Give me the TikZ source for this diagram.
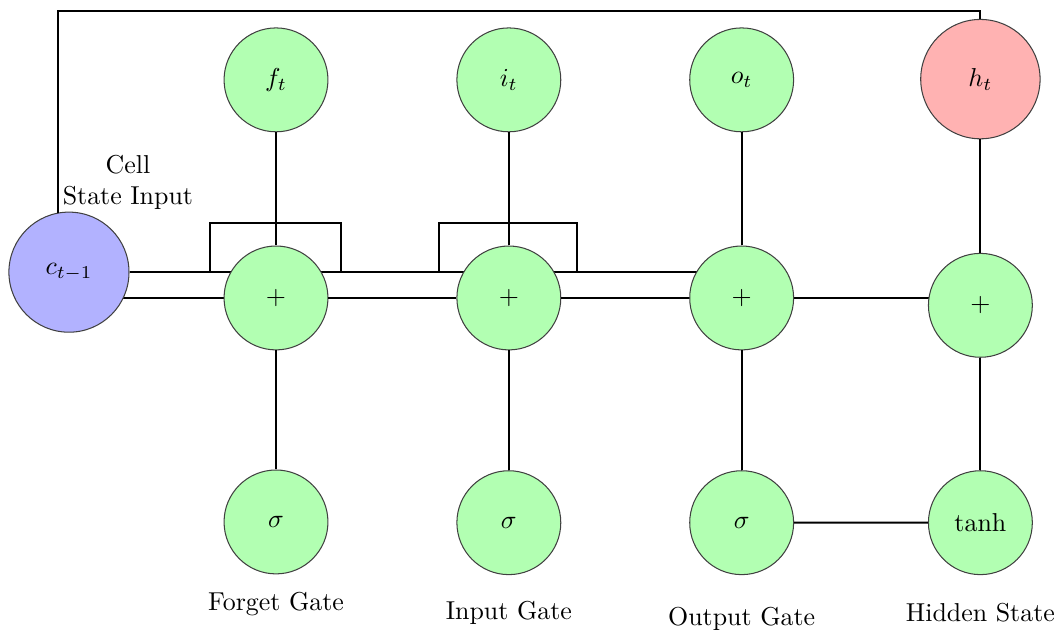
\documentclass[tikz,border=0pt]{standalone}
\usetikzlibrary{positioning, backgrounds}

\begin{document}
\begin{tikzpicture}
    [
        on grid,
        node distance=3cm and 3.16cm,
        gate/.style={draw=black!75, circle, fill=green!30, minimum size=1.41cm, inner sep=0pt},
        cellin/.style={gate, fill=blue!30, minimum size=1.63cm},
        hidden/.style={gate, fill=red!30, minimum size=1.62cm},
        wire/.style={draw, thick}
    ]
        \useasboundingbox (-3.746,-4.506) rectangle (10.654,4.044);
        % =========================================================================
        % NODES
        % =========================================================================
        % --- Middle row (sums) ---
        \node [gate] (fplus) {$+$};
        \node [gate, right=of fplus] (iplus) {$+$};
        \node [gate, right=of iplus] (oplus) {$+$};
        \node [gate, below right=0.1cm and 3.24cm of oplus] (hplus) {$+$};

        % --- Top row ---
        \node [gate, above=2.96cm of fplus] (ft) {$f_t$};
        \node [gate, above=2.96cm of iplus] (it) {$i_t$};
        \node [gate, above=2.96cm of oplus] (ot) {$o_t$};
        \node [hidden, above=3.07cm of hplus] (ht) {$h_t$};

        % --- Bottom row ---
        \node [gate, below=3.04cm of fplus] (fsig) {$\sigma$};
        \node [gate, below=3.05cm of iplus] (isig) {$\sigma$};
        \node [gate, below=3.05cm of oplus] (osig) {$\sigma$};
        \node [gate, below=2.95cm of hplus] (htanh) {tanh};

        % --- Cell state ---
        \node [cellin, above left=0.35cm and 2.81cm of fplus] (cprev) {$c_{t-1}$};
        \node [align=center, above right=1.22cm and 0.8cm of cprev] (celllabel) {Cell\\State Input};

        % --- Labels ---
        \node [below=1.12cm of fsig] (flabel) {Forget Gate};
        \node [below=1.22cm of isig] (ilabel) {Input Gate};
        \node [below=1.30cm of osig] (olabel) {Output Gate};
        \node [below=1.22cm of htanh] (hlabel) {Hidden State};

        % =========================================================================
        % PATHS
        % =========================================================================
        % --- HORIZONTAL ---
        \begin{scope}[on background layer]
            \draw [wire] (cprev.east) -- (cprev.east -| oplus.center);
            \draw [wire] (fplus.west) -- (fplus.west -| cprev.center);
            \draw [wire] (oplus.east) -- (oplus.east -| hplus.center);
        \end{scope}
        \draw [wire] (fplus) -- (iplus);
        \draw [wire] (iplus) -- (oplus);
        \draw [wire] (osig) -- (htanh);

        %  Brackets on the cell rail
        \coordinate (fjoin) at (fplus.center |- cprev.east);
        \coordinate (ijoin) at (iplus.center |- cprev.east);
        \draw [wire] ([xshift=-0.89cm]fjoin) -- ([xshift=-0.89cm, yshift=0.67cm]fjoin)
            -- ([xshift=0.88cm, yshift=0.67cm]fjoin) -- ([xshift=0.88cm]fjoin);
        \draw [wire] ([xshift=-0.95cm]ijoin) -- ([xshift=-0.95cm, yshift=0.67cm]ijoin)
            -- ([xshift=0.92cm, yshift=0.67cm]ijoin) -- ([xshift=0.92cm]ijoin);

        % --- VERTICAL ---
        \draw [wire] (ft) -- (fplus);
        \draw [wire] (fplus) -- (fsig);
        \draw [wire] (it) -- (iplus);
        \draw [wire] (iplus) -- (isig);
        \draw [wire] (ot) -- (oplus);
        \draw [wire] (oplus) -- (osig);
        \draw [wire] (ht) -- (hplus);
        \draw [wire] (hplus) -- (htanh);

        %  Feedback rail
        \coordinate [above=0.11cm of ht.north] (rail);
        \draw [wire] (cprev.100) |- (rail) -- (ht.north);
    \end{tikzpicture}
\end{document}
